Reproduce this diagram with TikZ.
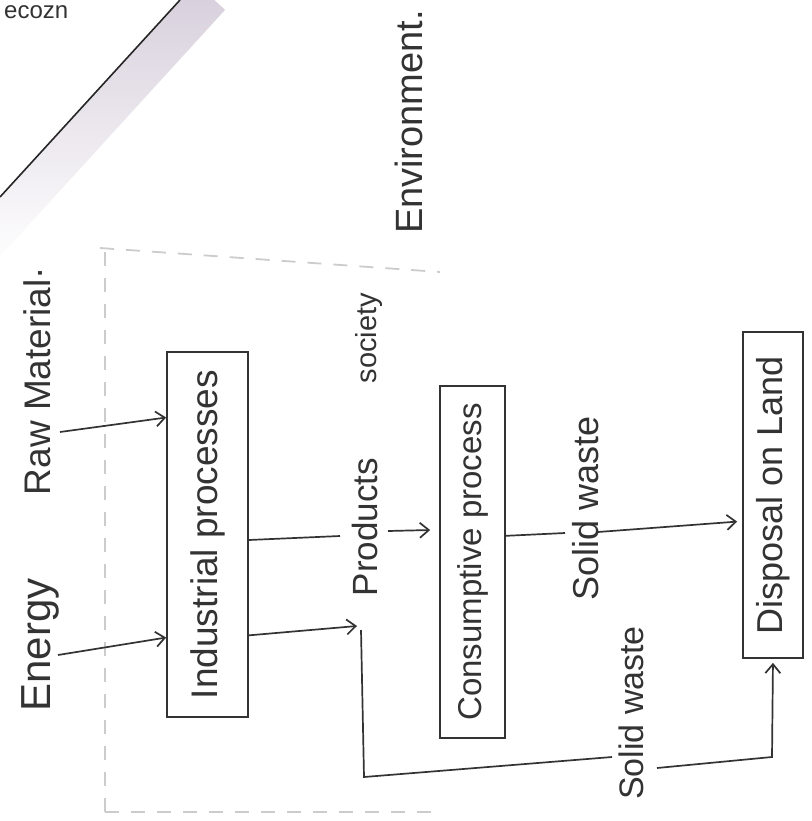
\documentclass[tikz,border=0pt]{standalone}
\usepackage{fontspec}
\setmainfont{Liberation Sans}
\usetikzlibrary{arrows.meta,calc}
\definecolor{ink}{rgb}{0.2,0.2,0.2}
\definecolor{shadow}{rgb}{0.84,0.81,0.86}
\tikzset{
  lbl/.style={rotate=90,inner sep=0pt,text=ink,font=\fontsize{#1}{#1}\selectfont},
  procbox/.style={draw=ink,line width=1.7pt,inner sep=0pt,text=ink,font=\fontsize{#1}{#1}\selectfont},
  wire/.style={draw=ink,line width=1.7pt},
  arr/.style={wire,-{Straight Barb[length=9pt,width=15pt,line width=1.7pt]}},
  frame/.style={draw=black!20,line width=1.8pt,dash pattern=on 14pt off 12pt}
}
\begin{document}
\begin{tikzpicture}[x=1pt,y=-1pt]
\fill[white] (0,0) rectangle (811,821);
\useasboundingbox (0,0) rectangle (811,821);

% page corner with its shadow
\begin{scope}[x=1pt,y=1pt,shift={(0,-197)},rotate=47.6]
  \shade[top color=shadow,bottom color=white] (-60,-40) rectangle (290,0);
\end{scope}
\draw[black!85,line width=1.6pt] (0,197) -- (180,0);
\node[inner sep=1pt,text=black!80,font=\fontsize{24}{24}\selectfont,anchor=north west] (corner) at (3,4) {ecozn};

% society boundary (dashed)
\draw[frame] (100,248) -- (440,272);
\draw[frame] (105,252) -- (105,812);
\draw[frame] (105,812) -- (440,812);

% labels
\node[lbl=42] (energy) at (40,645) {Energy};
\node[lbl=37] (raw) at (37,381) {Raw Material·};
\node[lbl=35] (products) at (365,527) {Products};
\node[lbl=29] (society) at (369,338) {society};
\node[lbl=38] (env) at (409,122) {Environment.};
\node[lbl=36] (sw1) at (586,508) {Solid waste};
\node[lbl=34] (sw2) at (631,713) {Solid waste};

% process boxes
\node[procbox=37,minimum width=81pt,minimum height=365pt] (ind) at (207.5,534.5) {\rotatebox{90}{Industrial processes}};
\node[procbox=33,minimum width=65pt,minimum height=352pt] (cons) at (472.5,562) {\rotatebox{90}{Consumptive process}};
\node[procbox=36,minimum width=60pt,minimum height=326pt] (disp) at (773,495) {\rotatebox{90}{Disposal on Land}};

% free ends
\coordinate (e0) at (58,655);
\coordinate (r0) at (60,432);
\coordinate (p1) at (340,536);
\coordinate (p2) at (388,531);
\coordinate (c1) at (357,626);
\coordinate (k1) at (361,630);
\coordinate (k2) at (364,777);
\coordinate (k3) at (612,757);
\coordinate (k4) at (657,768);
\coordinate (k5) at (772,757);
\coordinate (s1) at (565,533);
\coordinate (s2) at (598,532);

% connectors
\draw[arr] (e0) -- ($(ind.south west)!0.219!(ind.north west)$);
\draw[arr] (r0) -- ($(ind.south west)!0.819!(ind.north west)$);
\draw[wire] ($(ind.south east)!0.485!(ind.north east)$) -- (p1);
\draw[arr,shorten >=9pt] (p2) -- ($(cons.south west)!0.591!(cons.north west)$);
\draw[arr] ($(ind.south east)!0.225!(ind.north east)$) -- (c1);
\draw[wire] (k1) -- (k2) -- (k3);
\draw[arr,shorten >=4pt] (k4) -- (k5) -- (disp.south);
\draw[wire] ($(cons.south east)!0.574!(cons.north east)$) -- (s1);
\draw[arr,shorten >=5pt] (s2) -- ($(disp.south west)!0.42!(disp.north west)$);
\end{tikzpicture}
\end{document}
